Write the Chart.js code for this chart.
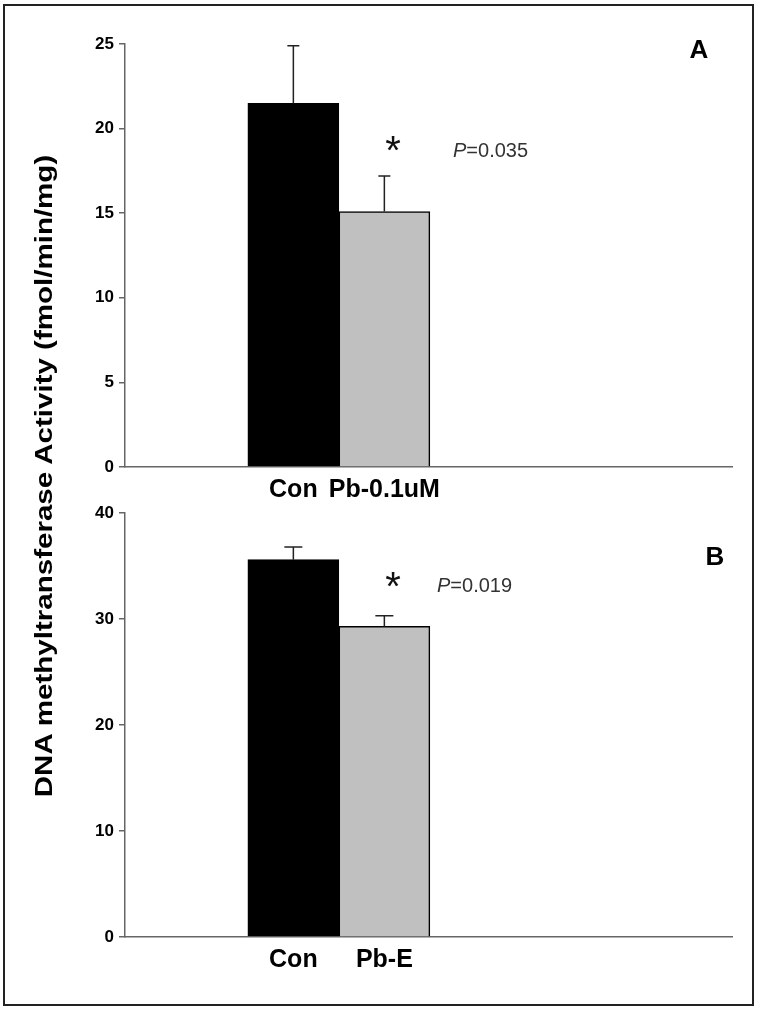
<!DOCTYPE html>
<html>
<head>
<meta charset="utf-8">
<script src="https://cdn.jsdelivr.net/npm/chart.js@4.4.1/dist/chart.umd.min.js"></script>
<style>
  body { margin: 0; background: #fff; width: 758px; height: 1011px; position: relative; overflow: hidden;
         font-family: "Liberation Sans", Arial, sans-serif; }
  .panel { position: absolute; left: 0; width: 758px; }
  #frame { position: absolute; left: 3px; top: 4px; width: 747px; height: 998px; border: 2px solid #222; }
  #ytitle { position: absolute; left: 44px; top: 476px; white-space: nowrap; font-weight: bold; font-size: 24px;
            transform: translate(-50%, -50%) rotate(-90deg) scaleX(1.23); }
</style>
</head>
<body>
<div class="panel" style="top:0;height:505px"><canvas id="chartA"></canvas></div>
<div class="panel" style="top:470px;height:541px"><canvas id="chartB"></canvas></div>
<div id="ytitle">DNA methyltransferase Activity (fmol/min/mg)</div>
<div id="frame"></div>
<script>
// panel A
const groupsA = ["Con", "Pb-0.1uM"];
const meanA = [21.5, 15.1];
const errTopA = [24.9, 17.2];
// panel B
const groupsB = ["Con", "Pb-E"];
const meanB = [35.6, 29.3];
const errTopB = [36.8, 30.3];

const barColors = ["#000000", "#c0c0c0"];
const axisGrey = "#666";

// error bars, upper side only
const errorBars = {
  id: "errorBars",
  afterDatasetsDraw(chart, args, opts) {
    const { ctx } = chart;
    const y = chart.scales.y;
    const meta = chart.getDatasetMeta(0);
    ctx.save();
    ctx.strokeStyle = "#222";
    ctx.lineWidth = 1.5;
    opts.tops.forEach((t, i) => {
      const bar = meta.data[i];
      const yt = y.getPixelForValue(t);
      ctx.beginPath();
      ctx.moveTo(bar.x, bar.y);
      ctx.lineTo(bar.x, yt);
      ctx.moveTo(bar.x - opts.cap / 2, yt);
      ctx.lineTo(bar.x + opts.cap / 2, yt);
      ctx.stroke();
    });
    ctx.restore();
  }
};

// asterisk, p value, panel letter
const notes = {
  id: "notes",
  afterDraw(chart, args, opts) {
    const ctx = chart.ctx;
    ctx.save();
    ctx.fillStyle = "#111";
    ctx.textBaseline = "alphabetic";
    ctx.font = "40px 'Liberation Sans', Arial";
    ctx.textAlign = "center";
    ctx.fillText("*", opts.star[0], opts.star[1]);
    ctx.fillStyle = "#000";
    ctx.font = "bold 26px 'Liberation Sans', Arial";
    ctx.fillText(opts.letter, opts.letterPos[0], opts.letterPos[1]);
    ctx.textAlign = "left";
    ctx.fillStyle = "#333";
    ctx.font = "italic 20px 'Liberation Sans', Arial";
    ctx.fillText("P", opts.p[0], opts.p[1]);
    const w = ctx.measureText("P").width;
    ctx.font = "20px 'Liberation Sans', Arial";
    ctx.fillText(opts.pText, opts.p[0] + w, opts.p[1]);
    ctx.restore();
  }
};

function makeChart(id, groups, means, tops, yMax, step, topPad, xHeight, annot, cap) {
  return new Chart(document.getElementById(id), {
    type: "bar",
    data: {
      datasets: [{
        data: means.map((v, i) => ({ x: i, y: v })),
        backgroundColor: barColors,
        borderColor: "#000",
        borderWidth: 1.5,
        categoryPercentage: 1,
        barPercentage: 1
      }]
    },
    options: {
      responsive: true,
      maintainAspectRatio: false,
      animation: false,
      layout: { padding: { top: topPad, right: 26, left: 0, bottom: 0 } },
      plugins: {
        legend: { display: false },
        tooltip: { enabled: false },
        errorBars: { tops: tops, cap: cap },
        notes: annot
      },
      scales: {
        x: {
          type: "linear",
          min: -1.85,
          max: 4.82,
          offset: false,
          afterBuildTicks: s => { s.ticks = groups.map((g, i) => ({ value: i })); },
          afterFit: s => { s.height = xHeight; },
          ticks: {
            callback: v => groups[v],
            color: "#000",
            font: { family: "'Liberation Sans', Arial", weight: "bold", size: 25 },
            padding: 8,
            maxRotation: 0,
            autoSkip: false
          },
          grid: { display: false, drawTicks: false },
          border: { color: axisGrey, width: 1.5 }
        },
        y: {
          min: 0,
          max: yMax,
          afterFit: s => { s.width = 125; },
          ticks: {
            stepSize: step,
            color: "#000",
            font: { family: "'Liberation Sans', Arial", weight: "bold", size: 17 },
            padding: 5
          },
          grid: { drawOnChartArea: false, drawTicks: true, tickLength: 6, color: axisGrey, lineWidth: 1.5 },
          border: { color: axisGrey, width: 1.5 }
        }
      }
    },
    plugins: [errorBars, notes]
  });
}

makeChart("chartA", groupsA, meanA, errTopA, 25, 5, 44, 38,
  { star: [393, 164], letter: "A", letterPos: [699, 58], p: [453, 157], pText: "=0.035" }, 12);
makeChart("chartB", groupsB, meanB, errTopB, 40, 10, 43, 74,
  { star: [393, 130], letter: "B", letterPos: [715, 95], p: [437, 122], pText: "=0.019" }, 18);
</script>
</body>
</html>
